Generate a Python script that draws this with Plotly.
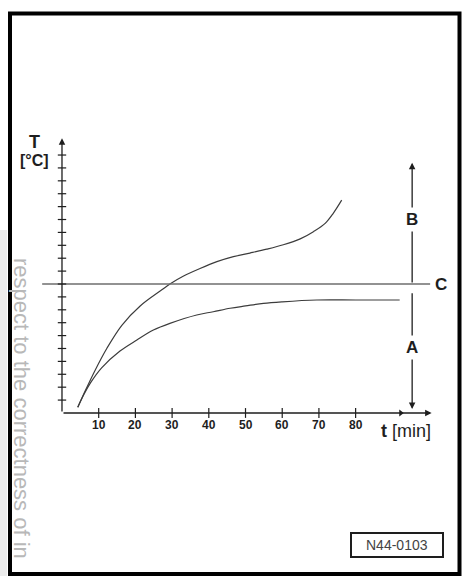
import plotly.graph_objects as go

# --- data (t in minutes, T in y-tick units) ---
x_ticks = [10, 20, 30, 40, 50, 60, 70, 80]
y_ticks = list(range(1, 21))

upper_t = [4.3, 6.3, 9.0, 12.2, 16.3, 21.3, 27.2, 29.4, 33.0, 37.6, 42.2, 46.7,
           51.2, 55.8, 60.3, 64.9, 68.5, 71.7, 73.9, 76.2]
upper_T = [0.44, 1.7, 3.3, 5.0, 6.8, 8.3, 9.55, 10.0, 10.6, 11.2, 11.73, 12.12,
           12.4, 12.7, 13.04, 13.5, 14.06, 14.7, 15.48, 16.5]

lower_t = [4.3, 6.0, 7.8, 10.8, 15.8, 20.4, 24.9, 29.4, 36.7, 41.2, 45.8, 50.0,
           54.9, 60.0, 69.4, 80.0, 92.0]
lower_T = [0.44, 1.45, 2.35, 3.5, 4.8, 5.66, 6.43, 6.95, 7.6, 7.85, 8.12, 8.3,
           8.5, 8.62, 8.76, 8.76, 8.76]

c_level = 10          # horizontal reference line C
c_span = [-5.4, 100.3]
marker_t = 95.4       # vertical A/B arrow position
b_level = 15.0
a_level = 5.1
t_axis_end = 100.7
T_axis_end = 21.3

ink = "#1e1e1e"
curve_col = "#3c3c3c"

fig = go.Figure()

# curves
for xs, ys in [(upper_t, upper_T), (lower_t, lower_T)]:
    fig.add_trace(go.Scatter(x=xs, y=ys, mode="lines",
                             line=dict(color=curve_col, width=1.2,
                                       shape="spline", smoothing=1.0)))

# line C
fig.add_trace(go.Scatter(x=c_span, y=[c_level, c_level], mode="lines",
                         line=dict(color="#6e6e6e", width=1.6)))

# tick marks
fig.add_trace(go.Scatter(x=x_ticks, y=[0] * len(x_ticks), mode="markers",
                         marker=dict(symbol="line-ns", size=7,
                                     line=dict(color=ink, width=1.2))))
fig.add_trace(go.Scatter(x=[0] * len(y_ticks), y=y_ticks, mode="markers",
                         marker=dict(symbol="line-ew", size=6,
                                     line=dict(color=ink, width=1.2))))
# small arrowhead on the t axis
fig.add_trace(go.Scatter(x=[92.3], y=[0], mode="markers",
                         marker=dict(symbol="triangle-right", size=6, color=ink)))


def arrow(x0, y0, x1, y1):
    fig.add_annotation(x=x1, y=y1, ax=x0, ay=y0, xref="x", yref="y",
                       axref="x", ayref="y", text="", showarrow=True,
                       arrowhead=2, arrowsize=1, arrowwidth=1.3,
                       arrowcolor=ink, standoff=0, startstandoff=0)


arrow(0, 0, 0, T_axis_end)
arrow(0, 0, t_axis_end, 0)
arrow(marker_t, c_level, marker_t, 19.4)
arrow(marker_t, 9.4, marker_t, 0.3)

bold = dict(family="Liberation Sans, Arial, sans-serif", color=ink)

for t in x_ticks:
    fig.add_annotation(x=t, y=-0.95, text=f"<b>{t}</b>", showarrow=False,
                       font=dict(size=12, **bold))

fig.add_annotation(x=-7.4, y=21.0, text="<b>T</b>", showarrow=False,
                   font=dict(size=18, **bold))
fig.add_annotation(x=-7.4, y=19.6, text="<b>[°C]</b>", showarrow=False,
                   font=dict(size=16, **bold))
fig.add_annotation(x=93.7, y=-1.4, text="<b>t</b> [min]", showarrow=False,
                   font=dict(size=18, **bold))

for lab, yy in [("B", b_level), ("A", a_level)]:
    fig.add_annotation(x=marker_t, y=yy, text=f"<b>{lab}</b>", showarrow=False,
                       bgcolor="white", borderpad=2, font=dict(size=17, **bold))
fig.add_annotation(x=103.3, y=c_level, text="<b>C</b>", showarrow=False,
                   font=dict(size=17, **bold))

# figure code box
fig.add_shape(type="rect", xref="paper", yref="paper",
              x0=351 / 465, x1=443 / 465, y0=1 - 557 / 576, y1=1 - 533 / 576,
              line=dict(color=ink, width=2))
fig.add_annotation(xref="paper", yref="paper", x=397 / 465, y=1 - 545 / 576,
                   xanchor="center", yanchor="middle",
                   text="N44-0103", showarrow=False,
                   font=dict(size=14, family="Liberation Sans, Arial", color="#444"))

# scan frame
fig.add_shape(type="rect", xref="paper", yref="paper", layer="below",
              x0=0, x1=7 / 465, y0=0, y1=1 - 230 / 576,
              line=dict(width=0), fillcolor="#ececec")
fig.add_shape(type="rect", xref="paper", yref="paper",
              x0=10 / 465, x1=459.5 / 465, y0=1 - 574 / 576, y1=1 - 13.5 / 576,
              line=dict(color="#000", width=4))

# watermark
fig.add_annotation(xref="paper", yref="paper", x=22 / 465, y=1 - 408 / 576,
                   xanchor="center", yanchor="middle",
                   text="respect to the correctness of in",
                   textangle=90, showarrow=False,
                   font=dict(size=22, family="Liberation Sans, Arial", color="#b8b8b8"))

fig.update_layout(
    width=465, height=576, margin=dict(l=0, r=0, t=0, b=0),
    paper_bgcolor="white", plot_bgcolor="white", showlegend=False,
    xaxis=dict(visible=False, range=[-16.89, 109.8], fixedrange=True),
    yaxis=dict(visible=False, range=[-12.64, 32.02], fixedrange=True),
)

fig.write_html("out.html", config={"displayModeBar": False},
               post_script="document.body.style.margin='0';")
